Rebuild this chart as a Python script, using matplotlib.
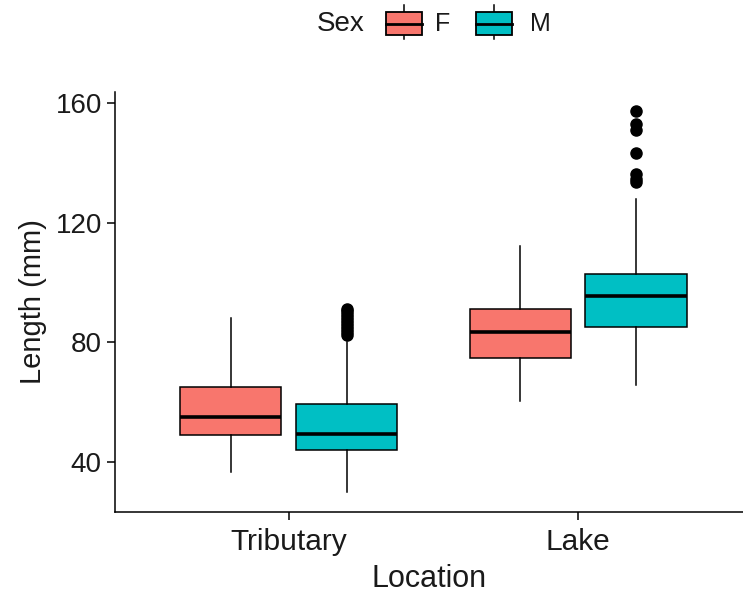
import matplotlib
matplotlib.use("Agg")
import matplotlib.pyplot as plt
import numpy as np
from matplotlib.patches import Rectangle

plt.rcParams["font.family"] = ["Liberation Sans", "DejaVu Sans"]

locations = ["Tributary", "Lake"]
sexes = ["F", "M"]
colors = ["#F8766D", "#00BFC4"]

# summaries, one value per location (Tributary, Lake)
f_whislo = [36.7, 60.4]
f_q1 = [48.9, 74.8]
f_med = [55.1, 83.5]
f_q3 = [65.1, 91.3]
f_whishi = [88.3, 112.1]
f_fliers = [[], []]

m_whislo = [30.0, 65.7]
m_q1 = [43.8, 85.0]
m_med = [49.3, 95.5]
m_q3 = [59.2, 103.0]
m_whishi = [80.1, 128.1]
m_fliers = [
    [82.5, 83.5, 84.5, 85.5, 86.5, 87.5, 88.5, 89.5, 90.5, 91.2],
    [133.6, 134.8, 136.2, 143.3, 151.2, 153.2, 157.6],
]

summaries = [
    (f_whislo, f_q1, f_med, f_q3, f_whishi, f_fliers),
    (m_whislo, m_q1, m_med, m_q3, m_whishi, m_fliers),
]

W, H = 743, 597
fig = plt.figure(figsize=(W / 100, H / 100), dpi=100)
ax = fig.add_axes([115 / W, 1 - 512 / H, (W - 115) / W, (512 - 91.7) / H])

offsets = [-0.2, 0.2]
for si, (lo, q1, med, q3, hi, fl) in enumerate(summaries):
    stats = [
        dict(whislo=lo[i], q1=q1[i], med=med[i], q3=q3[i], whishi=hi[i], fliers=fl[i])
        for i in range(len(locations))
    ]
    ax.bxp(
        stats, positions=np.arange(1, len(locations) + 1) + offsets[si],
        widths=0.35, patch_artist=True, showcaps=False,
        boxprops=dict(facecolor=colors[si], edgecolor="black", lw=1.1),
        medianprops=dict(color="black", lw=2.6, solid_capstyle="butt"),
        whiskerprops=dict(color="black", lw=1.1),
        flierprops=dict(marker="o", markerfacecolor="black", markeredgecolor="black",
                        markersize=8, linestyle="none"),
    )

ax.set_xlim(0.4, 0.4 + (W - 115) / 289.5)
ax.set_ylim(23.2, 163.9)
ax.set_xticks(np.arange(1, len(locations) + 1))
ax.set_xticklabels(locations)
ax.set_yticks([40, 80, 120, 160])
for s in ["top", "right"]:
    ax.spines[s].set_visible(False)
for s in ["left", "bottom"]:
    ax.spines[s].set_linewidth(1.1)
ax.tick_params(length=5.5, width=1.1, color="black", labelsize=20,
               labelcolor="#1a1a1a", pad=4)
ax.tick_params(axis="x", labelsize=21.5, pad=6)
ax.set_xlabel("Location", fontsize=22, color="#1a1a1a", labelpad=6)
ax.set_ylabel("Length (mm)", fontsize=21, color="#1a1a1a", labelpad=6)

# legend drawn in pixel coordinates across the top
lg = fig.add_axes([0, 0, 1, 1], zorder=-1)
lg.set_xlim(0, W)
lg.set_ylim(H, 0)
lg.set_axis_off()
lg.text(341, 24, "Sex", fontsize=20, ha="center", va="center", color="#1a1a1a")
key_x = [386, 476]
text_x = [443, 540]
for k, sex in enumerate(sexes):
    x0 = key_x[k]
    lg.plot([x0 + 17.5, x0 + 17.5], [5, 39], color="black", lw=1.1, zorder=1)
    lg.add_patch(Rectangle((x0, 12), 35.5, 23, facecolor=colors[k],
                           edgecolor="black", lw=1.3, zorder=2))
    lg.plot([x0, x0 + 35.5], [23.5, 23.5], color="black", lw=2.0, zorder=3)
    lg.text(text_x[k], 24, sex, fontsize=18, ha="center", va="center", color="#1a1a1a")

fig.savefig("out.png", dpi=100)
